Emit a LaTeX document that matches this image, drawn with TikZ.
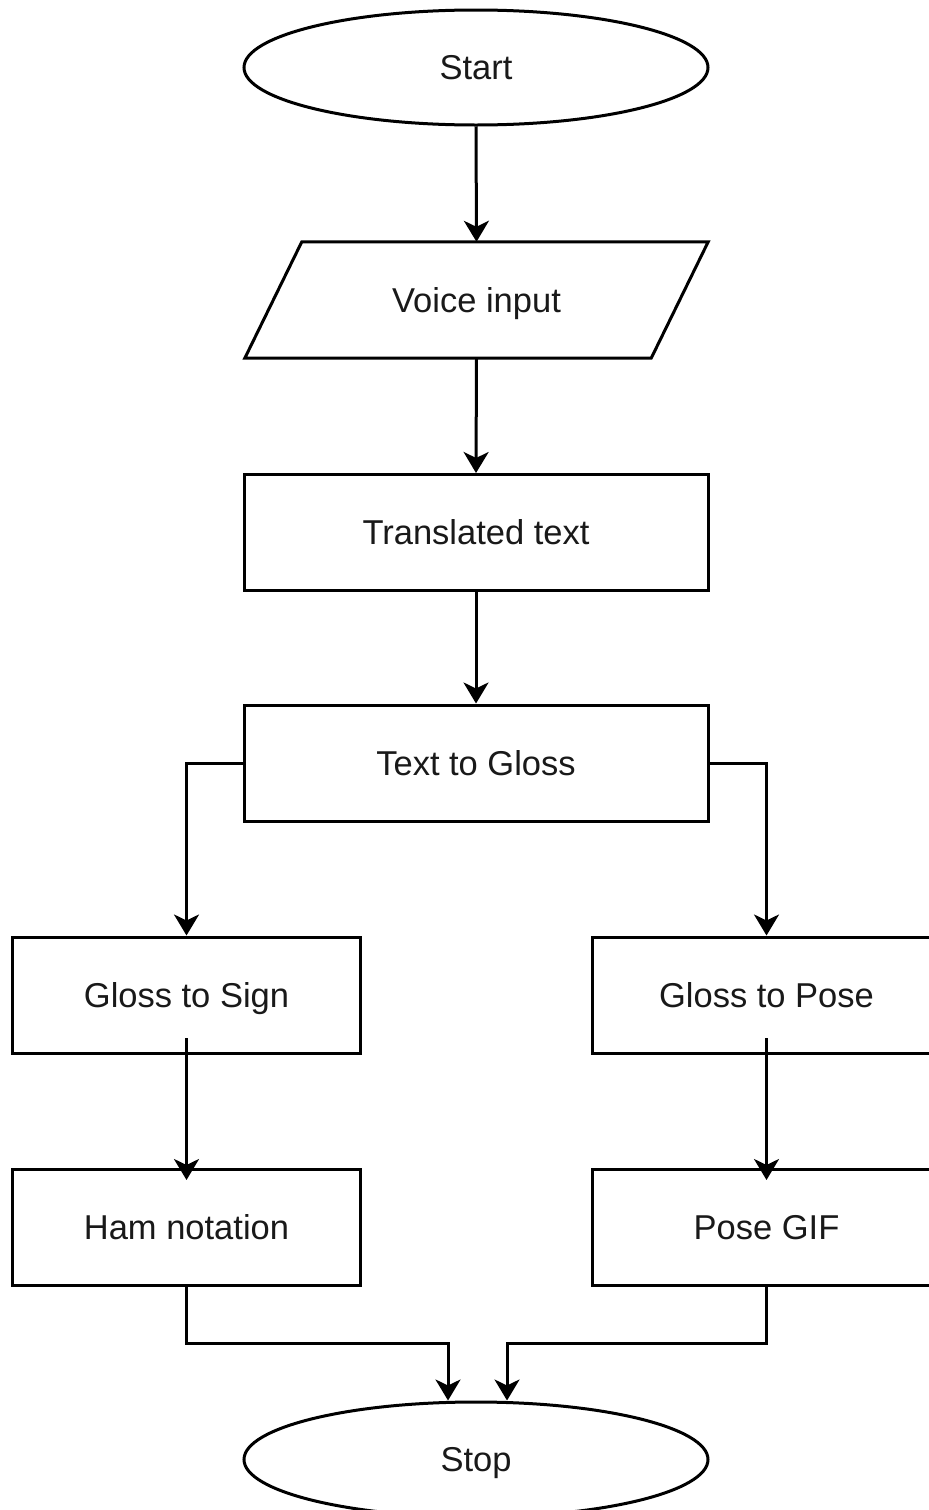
\documentclass[tikz,border=0pt]{standalone}
\usepackage{fontspec}
\setmainfont{Liberation Sans}
\usetikzlibrary{shapes.geometric,arrows.meta}
\begin{document}
\begin{tikzpicture}[x=1pt,y=-1pt,
  lbl/.style={font=\fontsize{34.5}{40}\selectfont, text=black!90,
              text height=32.7pt, text depth=8pt},
  base/.style={lbl, draw=black, line width=3pt, inner sep=0pt, fill=white},
  stepbox/.style={base, rectangle, minimum width=464pt, minimum height=116pt},
  sidebox/.style={base, rectangle, minimum width=348pt, minimum height=116pt},
  terminal/.style={base, ellipse, minimum width=464pt, minimum height=115pt},
  iobox/.style={lbl, rectangle, inner sep=0pt, minimum width=463pt, minimum height=116pt},
  outline/.style={draw=black, line width=3pt, fill=white, line join=miter},
  arr/.style={line width=3pt, -{Stealth[length=21pt,width=25pt,inset=6pt]}},
  link/.style={line width=3pt}]
\useasboundingbox (0,0) rectangle (929,1510);
\clip (0,0) rectangle (929,1510);

% main column
\node[terminal] (start) at (476,67.5) {Start};
\node[iobox] (voice) at (476.5,300) {};
\draw[outline] ([xshift=57pt]voice.north west) -- (voice.north east)
  -- ([xshift=-57pt]voice.south east) -- (voice.south west) -- cycle;
\node[lbl] at (voice.center) {Voice input};
\node[stepbox] (trans) at (476,532.5) {Translated text};
\node[stepbox] (gloss) at (476,763) {Text to Gloss};

% two branches
\node[sidebox] (sign) at (186.5,995) {Gloss to Sign};
\node[sidebox] (pose) at (766.5,995) {Gloss to Pose};
\node[sidebox] (ham) at (186.5,1227) {Ham notation};
\node[sidebox] (gif) at (766.5,1227) {Pose GIF};

\node[terminal] (stop) at (476,1459.5) {Stop};

% joints
\coordinate (signout) at (186.5,1038);
\coordinate (poseout) at (766.5,1038);
\coordinate (hamin) at (186.5,1180);
\coordinate (gifin) at (766.5,1180);
\coordinate (jl) at (448,1343);
\coordinate (jr) at (507,1343);

% connectors
\draw[arr] (start.south) -- (voice.north);
\draw[arr] (voice.south) -- (trans.north);
\draw[arr] (trans.south) -- (gloss.north);
\draw[arr] (gloss.west) -| (sign.north);
\draw[arr] (gloss.east) -| (pose.north);
\draw[arr] (signout) -- (hamin);
\draw[arr] (poseout) -- (gifin);
\draw[arr] (ham.south) |- (jl) -- (jl |- stop.north);
\draw[arr] (gif.south) |- (jr) -- (jr |- stop.north);
\end{tikzpicture}
\end{document}
